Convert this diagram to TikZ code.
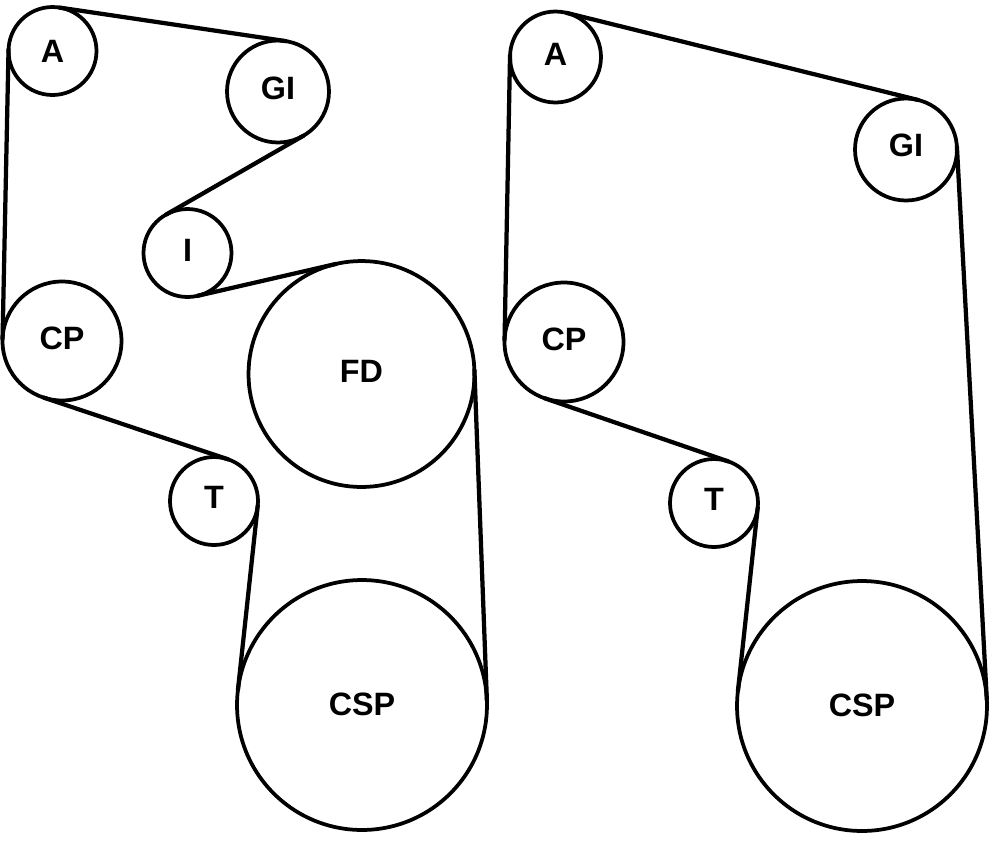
\documentclass[tikz,border=0pt]{standalone}
\usepackage{fontspec}
\setmainfont{Liberation Sans}
\usepackage{tikz}

\begin{document}
\begin{tikzpicture}[
    x=0.02cm, y=-0.02cm,
    pulley/.style={circle, draw, line width=0.075cm, inner sep=0pt, outer sep=0pt, text depth=3.2pt, font=\fontsize{18.4pt}{20pt}\selectfont\bfseries},
    belt/.style={line width=0.085cm, line cap=round}
]
    \useasboundingbox (0,0) rectangle (992,840);

    % Left drive
    \node[pulley, minimum size=1.76cm, text depth=0pt] (aL) at (52.5,51) {A};
    \node[pulley, minimum size=2.04cm] (giL) at (278,91.5) {GI};
    \node[pulley, minimum size=1.76cm] (iL) at (187.5,253) {I};
    \node[pulley, minimum size=2.38cm] (cpL) at (62,341) {CP};
    \node[pulley, minimum size=4.52cm] (fdL) at (361.5,374) {FD};
    \node[pulley, minimum size=1.76cm, text depth=4.5pt] (tL) at (214,501) {T};
    \node[pulley, minimum size=5cm, text depth=1pt] (cspL) at (362,705) {CSP};

    % Right drive
    \node[pulley, minimum size=1.82cm] (aR) at (555.5,57) {A};
    \node[pulley, minimum size=2.04cm, text depth=4.5pt] (giR) at (906,149.5) {GI};
    \node[pulley, minimum size=2.38cm] (cpR) at (564,342) {CP};
    \node[pulley, minimum size=1.76cm, text depth=3.6pt] (tR) at (714,503) {T};
    \node[pulley, minimum size=5cm, text depth=1pt] (cspR) at (862,706) {CSP};

    % Left belt
    \draw[belt] (aL.81.5) -- (giL.81.5);
    \draw[belt] (giL.-60.2) -- (iL.119.8);
    \draw[belt] (iL.-77) -- (fdL.103);
    \draw[belt] (fdL.2.2) -- (cspL.2.2);
    \draw[belt] (cspL.173.9) -- (tL.-6.1);
    \draw[belt] (tL.71.5) -- (cpL.-108.5);
    \draw[belt] (cpL.178.8) -- (aL.178.8);

    % Right belt
    \draw[belt] (aR.76.2) -- (giR.76.2);
    \draw[belt] (giR.3.1) -- (cspR.3.1);
    \draw[belt] (cspR.173.8) -- (tR.-6.2);
    \draw[belt] (tR.71) -- (cpR.-109);
    \draw[belt] (cpR.178.8) -- (aR.178.8);
\end{tikzpicture}
\end{document}
